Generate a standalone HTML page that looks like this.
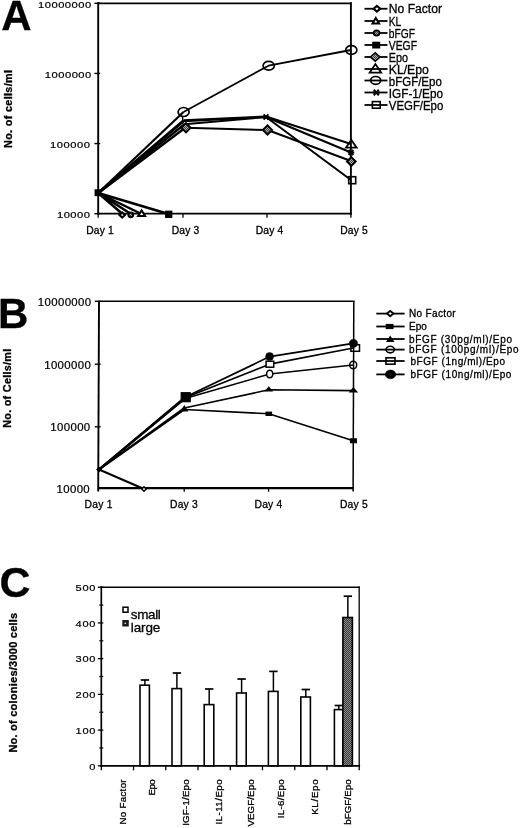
<!DOCTYPE html>
<html lang="en"><head><meta charset="utf-8"><title>Figure</title>
<style>html,body{margin:0;padding:0;background:#fff}svg{display:block}text{font-family:'Liberation Sans', sans-serif;fill:#000;stroke:#000;stroke-width:0.3px}</style>
</head><body>
<svg width="520" height="828" viewBox="0 0 520 828">
<defs><pattern id="dith" width="2" height="2" patternUnits="userSpaceOnUse"><rect width="2" height="2" fill="#3a3a3a"/><rect width="1" height="1" fill="#8a8a8a"/><rect x="1" y="1" width="1" height="1" fill="#8a8a8a"/></pattern><pattern id="dith2" width="2" height="2" patternUnits="userSpaceOnUse"><rect width="2" height="2" fill="#444"/><rect width="1" height="1" fill="#aaa"/><rect x="1" y="1" width="1" height="1" fill="#aaa"/></pattern></defs>
<rect width="520" height="828" fill="#fff"/>
<g id="panelA">
<text x="1.2" y="30.4" font-size="42" text-anchor="start" font-weight="bold" >A</text>
<path d="M98.2 3.3H350.9M98.2 213.7H350.9" fill="none" stroke="#000" stroke-width="1.8" stroke-linecap="square"/>
<path d="M98.2 3.3V213.7M350.9 3.3V213.7" fill="none" stroke="#000" stroke-width="1.9" stroke-linecap="square"/>
<line x1="94.4" y1="3.3" x2="100.2" y2="3.3" stroke="#000" stroke-width="1.4" />
<text font-size="9.3" text-anchor="end" transform="translate(91.3 7.7) scale(1.2 1)" textLength="44.5" lengthAdjust="spacing" style="stroke-width:0.2px">10000000</text>
<line x1="94.4" y1="73.43333333333332" x2="100.2" y2="73.43333333333332" stroke="#000" stroke-width="1.4" />
<text font-size="9.3" text-anchor="end" transform="translate(91.3 77.5) scale(1.2 1)" textLength="38.83" lengthAdjust="spacing" style="stroke-width:0.2px">1000000</text>
<line x1="94.4" y1="143.56666666666666" x2="100.2" y2="143.56666666666666" stroke="#000" stroke-width="1.4" />
<text font-size="9.3" text-anchor="end" transform="translate(90.0 147.7) scale(1.2 1)" textLength="33.25" lengthAdjust="spacing" style="stroke-width:0.2px">100000</text>
<line x1="94.4" y1="213.7" x2="100.2" y2="213.7" stroke="#000" stroke-width="1.4" />
<text font-size="9.3" text-anchor="end" transform="translate(90.0 217.8) scale(1.2 1)" textLength="27.58" lengthAdjust="spacing" style="stroke-width:0.2px">10000</text>
<line x1="98.2" y1="213.7" x2="98.2" y2="217.7" stroke="#000" stroke-width="1.3" />
<line x1="183" y1="213.7" x2="183" y2="217.7" stroke="#000" stroke-width="1.3" />
<line x1="267" y1="213.7" x2="267" y2="217.7" stroke="#000" stroke-width="1.3" />
<line x1="350.9" y1="213.7" x2="350.9" y2="217.7" stroke="#000" stroke-width="1.3" />
<text x="100" y="234" font-size="10.3" text-anchor="middle" textLength="27.6" lengthAdjust="spacing" >Day 1</text>
<text x="185.5" y="234" font-size="10.3" text-anchor="middle" textLength="27.6" lengthAdjust="spacing" >Day 3</text>
<text x="269.5" y="234" font-size="10.3" text-anchor="middle" textLength="27.6" lengthAdjust="spacing" >Day 4</text>
<text x="354" y="234" font-size="10.3" text-anchor="middle" textLength="27.6" lengthAdjust="spacing" >Day 5</text>
<text x="11.6" y="148" font-size="10.8" text-anchor="start" font-weight="bold" textLength="78" lengthAdjust="spacing" transform="rotate(-90 11.6 148)" >No. of cells/ml</text>
<polyline points="98.2,193 122.5,214" fill="none" stroke="#000" stroke-width="2.5" stroke-linejoin="round"/>
<polyline points="98.2,193 131,214" fill="none" stroke="#000" stroke-width="2.5" stroke-linejoin="round"/>
<polyline points="98.2,193 141.5,214" fill="none" stroke="#000" stroke-width="2.5" stroke-linejoin="round"/>
<polyline points="98.2,193 168.5,214" fill="none" stroke="#000" stroke-width="2.5" stroke-linejoin="round"/>
<polyline points="98.2,193 183.5,112" fill="none" stroke="#000" stroke-width="2.2" stroke-linejoin="round"/>
<polyline points="183.5,112 268.5,65.7 351,50" fill="none" stroke="#000" stroke-width="1.8" stroke-linejoin="round"/>
<polyline points="98.2,193 183.5,120.3" fill="none" stroke="#000" stroke-width="2.4" stroke-linejoin="round"/>
<polyline points="183.5,120.3 266,116.5 351,144" fill="none" stroke="#000" stroke-width="2.0" stroke-linejoin="round"/>
<polyline points="98.2,193 183.5,121.3" fill="none" stroke="#000" stroke-width="2.4" stroke-linejoin="round"/>
<polyline points="183.5,121.3 266,117 351,152.5" fill="none" stroke="#000" stroke-width="2.0" stroke-linejoin="round"/>
<polyline points="98.2,193 184.5,124.3" fill="none" stroke="#000" stroke-width="2.4" stroke-linejoin="round"/>
<polyline points="184.5,124.3 266,117 351,180" fill="none" stroke="#000" stroke-width="2.0" stroke-linejoin="round"/>
<polyline points="98.2,193 185.2,127.8" fill="none" stroke="#000" stroke-width="2.4" stroke-linejoin="round"/>
<polyline points="185.2,127.8 267.5,130 351,161" fill="none" stroke="#000" stroke-width="2.0" stroke-linejoin="round"/>
<rect x="95.3" y="190.0" width="5.4" height="5.4" fill="#000" stroke="#000" stroke-width="1.5"/>
<path d="M119.5 215L122.2 212.5L124.9 215L122.2 217.5Z" fill="#fff" stroke="#000" stroke-width="2.2" stroke-linejoin="miter"/>
<ellipse cx="130.8" cy="214.8" rx="2.4" ry="2.4" fill="url(#dith2)" stroke="#000" stroke-width="2.0"/>
<path d="M138.1 216.0L141.6 210.4L145.1 216.0Z" fill="#fff" stroke="#000" stroke-width="2.0" stroke-linejoin="miter"/>
<rect x="165.79999999999998" y="211.4" width="5.8" height="5.8" fill="#000" stroke="#000" stroke-width="1.5"/>
<line x1="182.6" y1="116.5" x2="182.6" y2="123.5" stroke="#000" stroke-width="1.4" />
<path d="M181.4 127.8L186 123.2L190.6 127.8L186 132.4Z" fill="url(#dith2)" stroke="#000" stroke-width="1.9"/>
<ellipse cx="183.6" cy="112" rx="5.5" ry="4.5" fill="none" stroke="#000" stroke-width="1.7"/>
<path d="M262.9 130L267.5 125.4L272.1 130L267.5 134.6Z" fill="url(#dith2)" stroke="#000" stroke-width="1.9"/>
<path d="M262.6 117H269.4M263.62 114.28L268.38 119.72M263.62 119.72L268.38 114.28" fill="none" stroke="#000" stroke-width="1.9"/>
<ellipse cx="268.7" cy="65.7" rx="5.6" ry="4.4" fill="none" stroke="#000" stroke-width="1.7"/>
<ellipse cx="351.3" cy="50" rx="5.6" ry="4.4" fill="none" stroke="#000" stroke-width="1.7"/>
<path d="M345.9 147.7L351.3 139.9L356.7 147.7Z" fill="none" stroke="#000" stroke-width="1.8" stroke-linejoin="miter"/>
<path d="M347.8 152.5H354.2M348.76 149.94L353.24 155.06M348.76 155.06L353.24 149.94" fill="none" stroke="#000" stroke-width="1.9"/>
<path d="M346.90000000000003 161.5L351.3 157.1L355.7 161.5L351.3 165.9Z" fill="url(#dith2)" stroke="#000" stroke-width="1.9"/>
<rect x="348.7" y="176.7" width="7.0" height="7.0" fill="none" stroke="#000" stroke-width="1.6"/>
<line x1="364.5" y1="8.75" x2="387.5" y2="8.75" stroke="#000" stroke-width="1.8" />
<path d="M373.6 8.75L376.9 5.95L380.2 8.75L376.9 11.55Z" fill="#fff" stroke="#000" stroke-width="2.2" stroke-linejoin="miter"/>
<text x="388.8" y="12.7" font-size="12" text-anchor="start" textLength="53.2" lengthAdjust="spacingAndGlyphs">No Factor</text>
<line x1="364.5" y1="21" x2="387.5" y2="21" stroke="#000" stroke-width="1.8" />
<path d="M372.5 23.6L375.8 18.0L379.1 23.6Z" fill="#fff" stroke="#000" stroke-width="2.0" stroke-linejoin="miter"/>
<text x="388.8" y="26.2" font-size="12" text-anchor="start" textLength="12.5" lengthAdjust="spacingAndGlyphs">KL</text>
<line x1="364.5" y1="33" x2="387.5" y2="33" stroke="#000" stroke-width="1.8" />
<ellipse cx="376.6" cy="33" rx="2.9" ry="2.6" fill="url(#dith2)" stroke="#000" stroke-width="1.8"/>
<text x="388.8" y="37.7" font-size="12" text-anchor="start" textLength="26.2" lengthAdjust="spacingAndGlyphs">bFGF</text>
<line x1="364.5" y1="45" x2="387.5" y2="45" stroke="#000" stroke-width="1.8" />
<rect x="372.2" y="41.7" width="8" height="6.8" fill="#000"/>
<text x="388.8" y="50.2" font-size="12" text-anchor="start" textLength="28.2" lengthAdjust="spacingAndGlyphs">VEGF</text>
<line x1="364.5" y1="57" x2="387.5" y2="57" stroke="#000" stroke-width="1.8" />
<path d="M370.4 57L375.2 52.7L380.0 57L375.2 61.3Z" fill="url(#dith2)" stroke="#000" stroke-width="1.6" stroke-linejoin="miter"/>
<text x="388.8" y="62.2" font-size="12" text-anchor="start" textLength="19.2" lengthAdjust="spacingAndGlyphs">Epo</text>
<line x1="364.5" y1="69" x2="387.5" y2="69" stroke="#000" stroke-width="1.8" />
<path d="M369.6 72.7L375.4 64.1L381.2 72.7Z" fill="none" stroke="#000" stroke-width="1.8" stroke-linejoin="miter"/>
<text x="388.8" y="74.2" font-size="12" text-anchor="start" textLength="40" lengthAdjust="spacingAndGlyphs">KL/Epo</text>
<line x1="364.5" y1="80.5" x2="387.5" y2="80.5" stroke="#000" stroke-width="1.8" />
<ellipse cx="375.7" cy="80.4" rx="5.0" ry="3.9" fill="none" stroke="#000" stroke-width="1.7"/>
<text x="388.8" y="85.7" font-size="12" text-anchor="start" textLength="53" lengthAdjust="spacingAndGlyphs">bFGF/Epo</text>
<line x1="364.5" y1="92.5" x2="387.5" y2="92.5" stroke="#000" stroke-width="1.8" />
<path d="M372.7 92.5H379.90000000000003M373.78000000000003 89.62L378.82 95.38M373.78000000000003 95.38L378.82 89.62" fill="none" stroke="#000" stroke-width="2.0"/>
<text x="388.8" y="97.7" font-size="12" text-anchor="start" textLength="54.2" lengthAdjust="spacingAndGlyphs">IGF-1/Epo</text>
<line x1="364.5" y1="105" x2="387.5" y2="105" stroke="#000" stroke-width="1.8" />
<rect x="372.4" y="101.6" width="7.8" height="6.6" fill="none" stroke="#000" stroke-width="1.6"/>
<text x="388.8" y="110.2" font-size="12" text-anchor="start" textLength="54.5" lengthAdjust="spacingAndGlyphs">VEGF/Epo</text>
</g>
<g id="panelB">
<text x="-2" y="327.9" font-size="42" text-anchor="start" font-weight="bold" >B</text>
<path d="M99 301.3H353.8" fill="none" stroke="#000" stroke-width="1.6" stroke-linecap="square"/>
<path d="M98.2 488.2H353.2" fill="none" stroke="#000" stroke-width="2.2" stroke-linecap="butt"/>
<path d="M99 301.3L98.2 491.5" fill="none" stroke="#000" stroke-width="1.9" stroke-linecap="butt"/>
<path d="M353.8 301.3L353.1 491.5" fill="none" stroke="#000" stroke-width="1.5" stroke-linecap="butt"/>
<line x1="94.8" y1="301.3" x2="100.6" y2="301.3" stroke="#000" stroke-width="1.4" />
<text font-size="10.1" text-anchor="end" transform="translate(91.1 305.8) scale(1.13 1)" textLength="47.17" lengthAdjust="spacing" style="stroke-width:0.2px">10000000</text>
<line x1="94.8" y1="364.2" x2="100.6" y2="364.2" stroke="#000" stroke-width="1.4" />
<text font-size="10.1" text-anchor="end" transform="translate(90.8 368.59999999999997) scale(1.13 1)" textLength="41.24" lengthAdjust="spacing" style="stroke-width:0.2px">1000000</text>
<line x1="94.8" y1="426.8" x2="100.6" y2="426.8" stroke="#000" stroke-width="1.4" />
<text font-size="10.1" text-anchor="end" transform="translate(90.2 431.3) scale(1.13 1)" textLength="35.31" lengthAdjust="spacing" style="stroke-width:0.2px">100000</text>
<text font-size="10.1" text-anchor="end" transform="translate(89.7 492.7) scale(1.13 1)" textLength="29.38" lengthAdjust="spacing" style="stroke-width:0.2px">10000</text>
<line x1="184.2" y1="488.2" x2="184.2" y2="491.8" stroke="#000" stroke-width="1.3" />
<line x1="268.6" y1="488.2" x2="268.6" y2="491.8" stroke="#000" stroke-width="1.3" />
<text x="98.5" y="507.5" font-size="10.3" text-anchor="middle" textLength="27.8" lengthAdjust="spacing" >Day 1</text>
<text x="183.9" y="507.5" font-size="10.3" text-anchor="middle" textLength="27.8" lengthAdjust="spacing" >Day 3</text>
<text x="268.4" y="507.5" font-size="10.3" text-anchor="middle" textLength="27.8" lengthAdjust="spacing" >Day 4</text>
<text x="353.8" y="507.5" font-size="10.3" text-anchor="middle" textLength="27.8" lengthAdjust="spacing" >Day 5</text>
<text x="10.9" y="427.8" font-size="10.8" text-anchor="start" font-weight="bold" textLength="79" lengthAdjust="spacing" transform="rotate(-90 10.9 427.8)" >No. of Cells/ml</text>
<polyline points="99,469.5 144,489" fill="none" stroke="#000" stroke-width="2.0" stroke-linejoin="round"/>
<polyline points="99,469.5 185,397.3" fill="none" stroke="#000" stroke-width="2.2" stroke-linejoin="round"/>
<polyline points="185,397.3 269.7,356.6 353.3,343.4" fill="none" stroke="#000" stroke-width="1.7" stroke-linejoin="round"/>
<polyline points="99,469.5 185,397.8" fill="none" stroke="#000" stroke-width="2.2" stroke-linejoin="round"/>
<polyline points="185,397.8 269.7,364.2 353.3,348" fill="none" stroke="#000" stroke-width="1.7" stroke-linejoin="round"/>
<polyline points="99,469.5 185,398.5" fill="none" stroke="#000" stroke-width="2.2" stroke-linejoin="round"/>
<polyline points="185,398.5 269.7,374 353.3,365" fill="none" stroke="#000" stroke-width="1.6" stroke-linejoin="round"/>
<polyline points="99,469.5 184.3,408" fill="none" stroke="#000" stroke-width="2.1" stroke-linejoin="round"/>
<polyline points="184.3,408 268.8,389.8 353.3,390.6" fill="none" stroke="#000" stroke-width="1.6" stroke-linejoin="round"/>
<polyline points="99,469.5 184.3,409.5" fill="none" stroke="#000" stroke-width="2.1" stroke-linejoin="round"/>
<polyline points="184.3,409.5 268.8,413.8 353.3,440.8" fill="none" stroke="#000" stroke-width="1.6" stroke-linejoin="round"/>
<path d="M96.6 469.5L99 467.1L101.4 469.5L99 471.9Z" fill="#000" stroke="#000" stroke-width="1"/>
<path d="M141.8 489L144 486.8L146.2 489L144 491.2Z" fill="#fff" stroke="#000" stroke-width="1.5"/>
<rect x="181.1" y="392.6" width="9.2" height="9.2" fill="#000" stroke="#000" stroke-width="1"/>
<path d="M180.3 411.55L184.3 405.05L188.3 411.55Z" fill="#000"/>
<ellipse cx="269.7" cy="374" rx="3.1" ry="3.8" fill="#fff" stroke="#000" stroke-width="1.5"/>
<rect x="266.1" y="361.2" width="7.6" height="6" fill="#fff" stroke="#000" stroke-width="1.5"/>
<ellipse cx="269.6" cy="356.6" rx="4" ry="4" fill="#000" stroke="#000" stroke-width="0.5"/>
<path d="M264.5 391.59999999999997L268.8 386.2L273.1 391.59999999999997Z" fill="#000"/>
<rect x="266.0" y="412.1" width="5.6" height="3.4" fill="#000" stroke="#000" stroke-width="1"/>
<ellipse cx="353.2" cy="365" rx="3.5" ry="3.7" fill="none" stroke="#000" stroke-width="1.5"/>
<rect x="350.9" y="344.7" width="8.6" height="6.6" fill="none" stroke="#000" stroke-width="1.5"/>
<ellipse cx="353.4" cy="343.4" rx="4.2" ry="4.2" fill="#000" stroke="#000" stroke-width="0.5"/>
<path d="M348.7 392.4L353.4 387.0L358.09999999999997 392.4Z" fill="#000"/>
<rect x="350.4" y="438.8" width="6" height="4" fill="#000" stroke="#000" stroke-width="1"/>
<line x1="376.3" y1="313.6" x2="404.6" y2="313.6" stroke="#000" stroke-width="1.8" />
<path d="M387.0 313.6L390.2 311.0L393.4 313.6L390.2 316.2Z" fill="#fff" stroke="#000" stroke-width="1.9" stroke-linejoin="miter"/>
<text x="409" y="317.2" font-size="10" text-anchor="start" textLength="46.7" lengthAdjust="spacing" >No Factor</text>
<line x1="376.3" y1="326.5" x2="404.6" y2="326.5" stroke="#000" stroke-width="1.8" />
<rect x="386.2" y="324.4" width="6.8" height="4.2" fill="#000" stroke="#000" stroke-width="1"/>
<text x="409" y="330.1" font-size="10" text-anchor="start" >Epo</text>
<line x1="376.3" y1="339" x2="404.6" y2="339" stroke="#000" stroke-width="1.8" />
<path d="M385.9 341.9L390.2 335.5L394.5 341.9Z" fill="#000"/>
<text x="409" y="342.6" font-size="10" text-anchor="start" textLength="103" lengthAdjust="spacing" >bFGF (30pg/ml)/Epo</text>
<line x1="376.3" y1="349.6" x2="404.6" y2="349.6" stroke="#000" stroke-width="1.8" />
<ellipse cx="390.2" cy="349.6" rx="4.2" ry="3.3" fill="none" stroke="#000" stroke-width="1.6"/>
<text x="409" y="353.2" font-size="10" text-anchor="start" textLength="109.6" lengthAdjust="spacing" >bFGF (100pg/ml)/Epo</text>
<line x1="376.3" y1="361" x2="404.6" y2="361" stroke="#000" stroke-width="1.8" />
<rect x="386.0" y="357.8" width="9" height="6.4" fill="none" stroke="#000" stroke-width="1.6"/>
<text x="410.4" y="364.6" font-size="10" text-anchor="start" textLength="94.6" lengthAdjust="spacing" >bFGF (1ng/ml)/Epo</text>
<line x1="376.3" y1="374.4" x2="404.6" y2="374.4" stroke="#000" stroke-width="1.8" />
<ellipse cx="390.5" cy="374.4" rx="5.2" ry="4.4" fill="#000" stroke="#000" stroke-width="0.5"/>
<text x="410.4" y="378.0" font-size="10" text-anchor="start" textLength="101" lengthAdjust="spacing" >bFGF (10ng/ml)/Epo</text>
</g>
<g id="panelC">
<text x="-0.6" y="597.2" font-size="43" text-anchor="start" font-weight="bold" >C</text>
<path d="M101.3 587.2H359.2" fill="none" stroke="#000" stroke-width="1.5" stroke-linecap="square"/>
<path d="M101.3 765.8H359.2" fill="none" stroke="#000" stroke-width="1.8" stroke-linecap="square"/>
<path d="M101.3 587.2V765.8" fill="none" stroke="#000" stroke-width="1.7" stroke-linecap="square"/>
<path d="M359.2 587.2V765.8" fill="none" stroke="#000" stroke-width="1.3" stroke-linecap="square"/>
<line x1="97.8" y1="765.8" x2="103.3" y2="765.8" stroke="#000" stroke-width="1.3" />
<text font-size="9.8" text-anchor="end" transform="translate(95.5 769.5) scale(1.13 1)" style="stroke-width:0.2px">0</text>
<line x1="99.3" y1="747.9399999999999" x2="103.3" y2="747.9399999999999" stroke="#000" stroke-width="1.2" />
<line x1="97.8" y1="730.0799999999999" x2="103.3" y2="730.0799999999999" stroke="#000" stroke-width="1.3" />
<text font-size="9.8" text-anchor="end" transform="translate(95.5 733.8) scale(1.13 1)" textLength="17.7" lengthAdjust="spacing" style="stroke-width:0.2px">100</text>
<line x1="99.3" y1="712.22" x2="103.3" y2="712.22" stroke="#000" stroke-width="1.2" />
<line x1="97.8" y1="694.36" x2="103.3" y2="694.36" stroke="#000" stroke-width="1.3" />
<text font-size="9.8" text-anchor="end" transform="translate(95.5 698.1) scale(1.13 1)" textLength="17.7" lengthAdjust="spacing" style="stroke-width:0.2px">200</text>
<line x1="99.3" y1="676.5" x2="103.3" y2="676.5" stroke="#000" stroke-width="1.2" />
<line x1="97.8" y1="658.64" x2="103.3" y2="658.64" stroke="#000" stroke-width="1.3" />
<text font-size="9.8" text-anchor="end" transform="translate(95.5 662.3) scale(1.13 1)" textLength="17.7" lengthAdjust="spacing" style="stroke-width:0.2px">300</text>
<line x1="99.3" y1="640.78" x2="103.3" y2="640.78" stroke="#000" stroke-width="1.2" />
<line x1="97.8" y1="622.9200000000001" x2="103.3" y2="622.9200000000001" stroke="#000" stroke-width="1.3" />
<text font-size="9.8" text-anchor="end" transform="translate(95.5 626.6) scale(1.13 1)" textLength="17.7" lengthAdjust="spacing" style="stroke-width:0.2px">400</text>
<line x1="99.3" y1="605.0600000000001" x2="103.3" y2="605.0600000000001" stroke="#000" stroke-width="1.2" />
<line x1="97.8" y1="587.2" x2="103.3" y2="587.2" stroke="#000" stroke-width="1.3" />
<text font-size="9.8" text-anchor="end" transform="translate(95.5 590.9) scale(1.13 1)" textLength="17.7" lengthAdjust="spacing" style="stroke-width:0.2px">500</text>
<line x1="101.3" y1="765.8" x2="101.3" y2="770.3" stroke="#000" stroke-width="1.3" />
<line x1="133.5375" y1="765.8" x2="133.5375" y2="770.3" stroke="#000" stroke-width="1.3" />
<line x1="165.77499999999998" y1="765.8" x2="165.77499999999998" y2="770.3" stroke="#000" stroke-width="1.3" />
<line x1="198.0125" y1="765.8" x2="198.0125" y2="770.3" stroke="#000" stroke-width="1.3" />
<line x1="230.25" y1="765.8" x2="230.25" y2="770.3" stroke="#000" stroke-width="1.3" />
<line x1="262.4875" y1="765.8" x2="262.4875" y2="770.3" stroke="#000" stroke-width="1.3" />
<line x1="294.72499999999997" y1="765.8" x2="294.72499999999997" y2="770.3" stroke="#000" stroke-width="1.3" />
<line x1="326.9625" y1="765.8" x2="326.9625" y2="770.3" stroke="#000" stroke-width="1.3" />
<line x1="359.2" y1="765.8" x2="359.2" y2="770.3" stroke="#000" stroke-width="1.3" />
<text x="17.3" y="752.6" font-size="11" text-anchor="start" font-weight="bold" textLength="139.8" lengthAdjust="spacing" transform="rotate(-90 17.3 752.6)" >No. of colonies/3000 cells</text>
<rect x="123" y="607.2" width="5" height="5" fill="#fff" stroke="#000" stroke-width="1.5"/>
<rect x="122.3" y="620" width="6.5" height="6.5" fill="#1a1a1a"/><rect x="124.6" y="622.6" width="1.4" height="1.4" fill="#ddd"/>
<text x="130.8" y="618.8" font-size="13.5" text-anchor="start" textLength="30" lengthAdjust="spacing" >small</text>
<text x="130.8" y="632" font-size="13.5" text-anchor="start" textLength="29.5" lengthAdjust="spacing" >large</text>
<rect x="140.0" y="685.2" width="9.4" height="80.6" fill="#fff" stroke="#000" stroke-width="1.6"/>
<line x1="144.9" y1="685.2" x2="144.9" y2="680" stroke="#000" stroke-width="1.5" />
<line x1="140.70000000000002" y1="680" x2="149.1" y2="680" stroke="#000" stroke-width="1.7" />
<rect x="172.0" y="688.6" width="9.4" height="77.2" fill="#fff" stroke="#000" stroke-width="1.6"/>
<line x1="176.9" y1="688.6" x2="176.9" y2="673" stroke="#000" stroke-width="1.5" />
<line x1="172.70000000000002" y1="673" x2="181.1" y2="673" stroke="#000" stroke-width="1.7" />
<rect x="204.2" y="704.6" width="9.6" height="61.2" fill="#fff" stroke="#000" stroke-width="1.6"/>
<line x1="209.2" y1="704.6" x2="209.2" y2="689" stroke="#000" stroke-width="1.5" />
<line x1="205.0" y1="689" x2="213.39999999999998" y2="689" stroke="#000" stroke-width="1.7" />
<rect x="236.6" y="693" width="9.6" height="72.8" fill="#fff" stroke="#000" stroke-width="1.6"/>
<line x1="241.6" y1="693" x2="241.6" y2="679" stroke="#000" stroke-width="1.5" />
<line x1="237.4" y1="679" x2="245.79999999999998" y2="679" stroke="#000" stroke-width="1.7" />
<rect x="268.4" y="691.4" width="9.6" height="74.4" fill="#fff" stroke="#000" stroke-width="1.6"/>
<line x1="273.4" y1="691.4" x2="273.4" y2="671.4" stroke="#000" stroke-width="1.5" />
<line x1="269.2" y1="671.4" x2="277.59999999999997" y2="671.4" stroke="#000" stroke-width="1.7" />
<rect x="300.8" y="697" width="9.6" height="68.8" fill="#fff" stroke="#000" stroke-width="1.6"/>
<line x1="305.8" y1="697" x2="305.8" y2="689.5" stroke="#000" stroke-width="1.5" />
<line x1="301.6" y1="689.5" x2="310.0" y2="689.5" stroke="#000" stroke-width="1.7" />
<rect x="334.4" y="709.6" width="8.5" height="56.2" fill="#fff" stroke="#000" stroke-width="1.6"/>
<line x1="338.85" y1="709.6" x2="338.85" y2="705.5" stroke="#000" stroke-width="1.5" />
<line x1="334.65000000000003" y1="705.5" x2="343.05" y2="705.5" stroke="#000" stroke-width="1.7" />
<rect x="342.9" y="617.5" width="9.5" height="148.3" fill="url(#dith)" stroke="#000" stroke-width="1.6"/>
<line x1="347.85" y1="617.5" x2="347.85" y2="596.2" stroke="#000" stroke-width="1.5" />
<line x1="343.65000000000003" y1="596.2" x2="352.05" y2="596.2" stroke="#000" stroke-width="1.7" />
<text x="126.2" y="779.4" font-size="9.7" text-anchor="end" textLength="45.2" lengthAdjust="spacing" transform="rotate(-90 126.2 779.4)" >No Factor</text>
<text x="155.2" y="779.4" font-size="9.7" text-anchor="end" textLength="16" lengthAdjust="spacing" transform="rotate(-90 155.2 779.4)" >Epo</text>
<text x="189.4" y="779.4" font-size="9.7" text-anchor="end" textLength="46.4" lengthAdjust="spacing" transform="rotate(-90 189.4 779.4)" >IGF-1/Epo</text>
<text x="221.8" y="779.4" font-size="9.7" text-anchor="end" textLength="45.2" lengthAdjust="spacing" transform="rotate(-90 221.8 779.4)" >IL-11/Epo</text>
<text x="254.4" y="779.4" font-size="9.7" text-anchor="end" textLength="47.2" lengthAdjust="spacing" transform="rotate(-90 254.4 779.4)" >VEGF/Epo</text>
<text x="284.4" y="779.4" font-size="9.7" text-anchor="end" textLength="38.8" lengthAdjust="spacing" transform="rotate(-90 284.4 779.4)" >IL-6/Epo</text>
<text x="318.4" y="779.4" font-size="9.7" text-anchor="end" textLength="35.4" lengthAdjust="spacing" transform="rotate(-90 318.4 779.4)" >KL/Epo</text>
<text x="350.9" y="779.4" font-size="9.7" text-anchor="end" textLength="45.4" lengthAdjust="spacing" transform="rotate(-90 350.9 779.4)" >bFGF/Epo</text>
</g>
</svg>
</body></html>
